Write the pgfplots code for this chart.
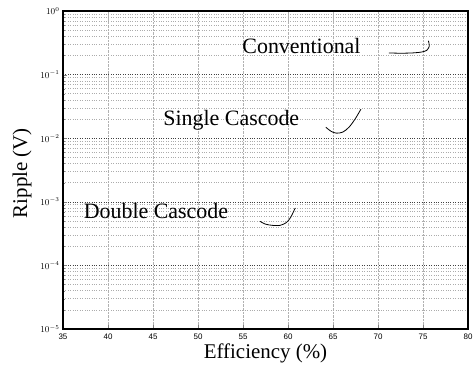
\documentclass[border=0pt]{standalone}
\usepackage{pgfplots}
\pgfplotsset{compat=1.18}
\usepackage{fontspec}
\setmainfont{Liberation Serif}
\setsansfont{Liberation Sans}
\begin{document}
\begin{tikzpicture}[x=1bp,y=1bp]
\path[use as bounding box] (0,0) rectangle (473,367);
\begin{axis}[
  at={(63bp,38bp)}, anchor=south west,
  scale only axis, width=405bp, height=318bp,
  xmin=35, xmax=80, ymode=log, ymin=1e-5, ymax=1,
  xtick={35,40,...,80},
  ytick={1e-5,1e-4,1e-3,1e-2,1e-1,1},
  tick align=inside,
  xtick pos=bottom, ytick pos=left,
  major tick length=4bp, minor tick length=2bp,
  axis line style={line width=1.3bp},
  grid=both,
  major x grid style={densely dotted, gray!60, line width=0.5bp},
  major y grid style={dotted, black!75, line width=0.6bp},
  minor grid style={dotted, gray!65, line width=0.5bp},
  tick label style={font=\sffamily\fontsize{8}{9}\selectfont},
  yticklabel style={font=\fontsize{9}{10}\selectfont},
  /pgf/number format/assume math mode=true,
  xticklabel style={yshift=-1bp},
  xlabel={Efficiency (\%)}, ylabel={Ripple (V)},
  label style={font=\fontsize{21}{22}\selectfont},
  xlabel style={at={(axis description cs:0.5,-0.0943)}, anchor=base},
  ylabel style={at={(axis description cs:-0.101,0.49)}, anchor=center},
]
\addplot[black, line width=0.8bp, smooth] coordinates {
 (71.2,0.219) (72.5,0.217) (73.8,0.219) (74.8,0.226) (75.4,0.24) (75.7,0.28) (75.6,0.34)
};
\addplot[black, line width=0.8bp, smooth] coordinates {
 (64.2,0.0149) (64.8,0.0128) (65.4,0.0120) (66.1,0.0125) (66.8,0.0150) (67.5,0.0205) (68.1,0.0286)
};
\addplot[black, line width=0.8bp, smooth] coordinates {
 (56.9,0.000492) (57.5,0.000445) (58.3,0.000426) (59.1,0.000426) (59.8,0.00047) (60.3,0.00057) (60.8,0.0008)
};
\node[font=\fontsize{22}{24}\selectfont, anchor=base] at (axis cs:61.5,0.211) {Conventional};
\node[font=\fontsize{22}{24}\selectfont, anchor=base] at (axis cs:53.7,0.01567) {Single Cascode};
\node[font=\fontsize{22}{24}\selectfont, anchor=base] at (axis cs:45.33,0.000537) {Double Cascode};
\end{axis}
\end{tikzpicture}
\end{document}
